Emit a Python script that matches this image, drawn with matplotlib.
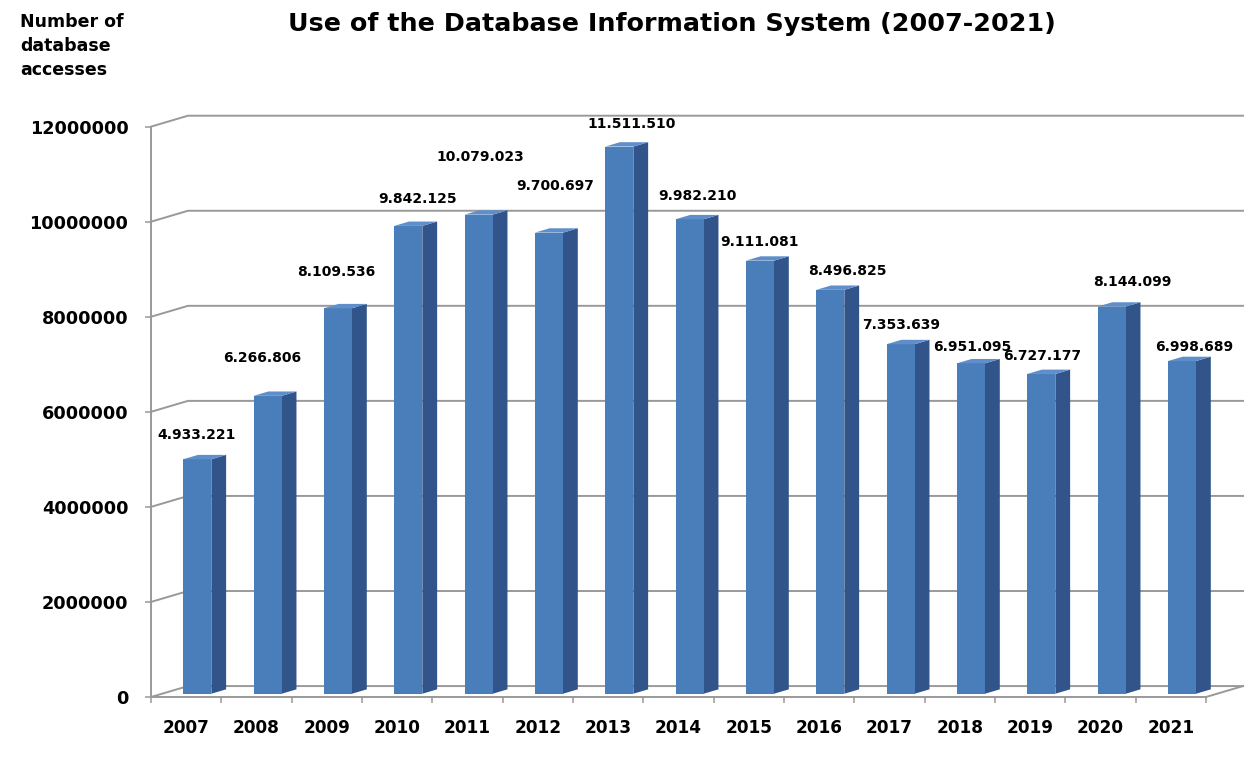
import numpy as np
import matplotlib
matplotlib.use("Agg")
import matplotlib.pyplot as plt
from matplotlib.patches import Polygon

# данные
years = ["2007", "2008", "2009", "2010", "2011", "2012", "2013", "2014",
         "2015", "2016", "2017", "2018", "2019", "2020", "2021"]
accesses = [4933221, 6266806, 8109536, 9842125, 10079023, 9700697, 11511510,
            9982210, 9111081, 8496825, 7353639, 6951095, 6727177, 8144099, 6998689]
yticks = [0, 2000000, 4000000, 6000000, 8000000, 10000000, 12000000]

# смещения подписей (пиксели), как в оригинале
label_dx = [-1, -5, -2, 9, 2, 6, 12, 8, 0, 17, 1, 1, 1, 21, 12]
label_dy = [24, 38, 36, 27, 58, 47, 23, 23, 19, 19, 19, 16, 18, 25, 14]

# "3D" параметры: глубина пола в единицах данных
DX, DY = 0.526, 230000
f0, fd = 0.3, 0.4      # положение и глубина столбика
bw = 0.4               # ширина столбика

c_front, c_side, c_top = "#4a7ebb", "#31558a", "#5f8fcb"
c_grid = "#999999"
W, H = 1249, 766

fig = plt.figure(figsize=(W / 100, H / 100), dpi=100)
ax = fig.add_axes([151 / W, 69 / H, 1092 / W, 581.3 / H])
n = len(years)
ax.set_xlim(-0.5, n - 0.5 + DX)
ax.set_ylim(0, yticks[-1] + DY)

# сетка на задней стенке + боковые штрихи
for v in yticks:
    ax.plot([-0.5, -0.5 + DX, n - 0.5 + DX], [v, v + DY, v + DY],
            color=c_grid, lw=1.4, zorder=1, clip_on=False)
ax.plot([n - 0.5, n - 0.5 + DX], [0, DY], color=c_grid, lw=1.4, zorder=1, clip_on=False)

# столбики
for i, v in enumerate(accesses):
    xl = i - bw / 2 + f0 * DX
    xr = xl + bw
    yb = f0 * DY
    front = [(xl, yb), (xl, yb + v), (xr, yb + v), (xr, yb)]
    side = [(xr, yb), (xr, yb + v), (xr + fd * DX, yb + v + fd * DY), (xr + fd * DX, yb + fd * DY)]
    top = [(xl, yb + v), (xl + fd * DX, yb + v + fd * DY), (xr + fd * DX, yb + v + fd * DY), (xr, yb + v)]
    ax.add_patch(Polygon(side, closed=True, fc=c_side, ec="none", zorder=3))
    ax.add_patch(Polygon(front, closed=True, fc=c_front, ec="none", zorder=3))
    ax.add_patch(Polygon(top, closed=True, fc=c_top, ec="none", zorder=3))
    txt = f"{v:,}".replace(",", ".")
    ax.annotate(txt, xy=(i + f0 * DX, yb + v), xytext=(label_dx[i], label_dy[i]),
                textcoords="offset pixels", ha="center", va="center",
                fontsize=10, fontweight="bold", color="black", zorder=5)

# оси
for s in ["top", "right"]:
    ax.spines[s].set_visible(False)
ax.spines["left"].set_bounds(0, yticks[-1])
ax.spines["bottom"].set_bounds(-0.5, n - 0.5)
for s in ["left", "bottom"]:
    ax.spines[s].set_color(c_grid)
    ax.spines[s].set_linewidth(1.4)

ax.set_yticks(yticks)
ax.set_yticklabels([str(t) for t in yticks])
ax.tick_params(axis="y", length=4.3, width=1.1, color=c_grid, pad=12,
               labelsize=12.7)
ax.set_xticks(range(n))
ax.set_xticklabels(years)
ax.set_xticks(np.arange(-0.5, n, 1.0), minor=True)
ax.tick_params(axis="x", which="major", length=0, pad=16, labelsize=12.2)
ax.tick_params(axis="x", which="minor", length=4.3, width=1.1, color=c_grid)
for lab in ax.get_xticklabels() + ax.get_yticklabels():
    lab.set_fontweight("bold")

fig.text(672 / W, 1 - 24 / H, "Use of the Database Information System (2007-2021)",
         ha="center", va="center", fontsize=18.3, fontweight="bold")
fig.text(20 / W, 1 - 13 / H, "Number of\ndatabase\naccesses", ha="left", va="top",
         fontsize=12.5, fontweight="bold", linespacing=1.42)

fig.savefig("out.png", dpi=100, facecolor="white")
